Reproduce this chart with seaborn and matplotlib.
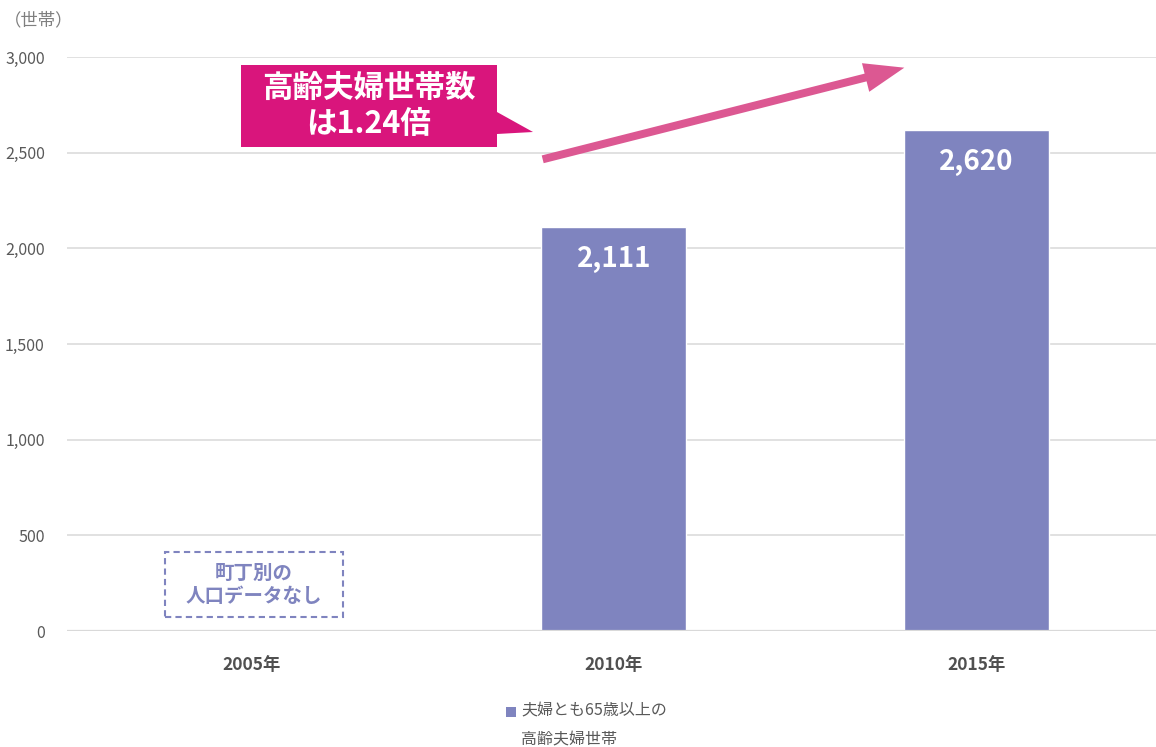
import numpy as np
import pandas as pd
import matplotlib.pyplot as plt
import matplotlib.patches as mpatches
import seaborn as sns

# DATA

years = ['2005年', '2010年', '2015年']
households = [np.nan, 2111, 2620]
y_ticks = [0, 500, 1000, 1500, 2000, 2500, 3000]
legend_label = ['夫婦とも65歳以上の', '高齢夫婦世帯']
callout_text = '高齢夫婦世帯数\nは1.24倍'
no_data_text = '町丁別の\n人口データなし'

bar_color = '#7f84bf'
callout_color = '#d9157c'
arrow_color = '#dc5892'
text_gray = '#595959'
grid_gray = '#d9d9d9'

sns.set_style('white')
plt.rcParams['font.family'] = ['Noto Sans CJK JP', 'DejaVu Sans']

W, H = 1156, 747
fig = plt.figure(figsize=(W / 100, H / 100), dpi=100)
ax = fig.add_axes([67 / W, 1 - 631 / H, (W - 67) / W, (631 - 57) / H])


def px(x, y):
    # figure pixels (from top-left) to figure fraction
    return (x / W, 1 - y / H)


df = pd.DataFrame({'year': years, 'households': households})

sns.barplot(
    data=df,
    x='year',
    y='households',
    color=bar_color,
    saturation=1,
    width=0.4,
    ax=ax,
    zorder=3
)

ax.set_xlim(-0.508, 2.495)
ax.set_ylim(0, 3000)
ax.set_yticks(y_ticks)
ax.set_yticklabels([f'{v:,}' for v in y_ticks], color=text_gray, fontsize=11.5)
ax.set_xticks(range(len(years)))
ax.set_xticklabels(years, color='#505050', fontsize=12.5, fontweight='bold')
ax.tick_params(axis='y', length=0, pad=16)
ax.tick_params(axis='x', length=0, pad=18)
ax.set_xlabel('')
ax.set_ylabel('')

ax.grid(axis='y', color=grid_gray, linewidth=1.1, zorder=0)
for s in ['top', 'right', 'left', 'bottom']:
    ax.spines[s].set_visible(False)
ax.axhline(0, color=grid_gray, linewidth=1.6, zorder=4)

# value labels inside bars
for i, v in enumerate(households):
    if np.isnan(v):
        continue
    ax.annotate(
        f'{int(v):,}',
        xy=(i, v),
        xytext=(0, -23),
        textcoords='offset points',
        ha='center',
        va='center',
        color='white',
        fontsize=20,
        fontweight='bold',
        zorder=5
    )

# unit label
fig.text(*px(4, 20), '（世帯）', color='#7f7f7f', fontsize=12.5, ha='left', va='center')

# callout box with pointer
callout = mpatches.Polygon(
    [px(241, 65), px(497, 65), px(497, 112), px(533, 132),
     px(497, 134), px(497, 147), px(241, 147)],
    closed=True,
    transform=fig.transFigure,
    facecolor=callout_color,
    edgecolor='none'
)
fig.add_artist(callout)
fig.text(*px(369, 106), callout_text, color='white', fontsize=22,
         fontweight='bold', ha='center', va='center', linespacing=1.15)

# trend arrow
arrow = mpatches.FancyArrowPatch(
    px(540, 160), px(907, 67),
    transform=fig.transFigure,
    arrowstyle='simple,head_length=1.15,head_width=0.85,tail_width=0.23',
    mutation_scale=25,
    color=arrow_color,
    linewidth=0
)
fig.add_artist(arrow)

# no data box for 2005
no_data = mpatches.Rectangle(
    px(165, 617),
    (343 - 165) / W,
    (617 - 552) / H,
    transform=fig.transFigure,
    facecolor='none',
    edgecolor=bar_color,
    linewidth=1.5,
    linestyle=(0, (3, 2))
)
fig.add_artist(no_data)
fig.text(*px(254, 585), no_data_text, color=bar_color, fontsize=14,
         fontweight='bold', ha='center', va='center', linespacing=1.3)

# legend
legend_square = mpatches.Rectangle(
    px(506, 717),
    10 / W,
    10 / H,
    transform=fig.transFigure,
    facecolor=bar_color,
    edgecolor='none'
)
fig.add_artist(legend_square)
fig.text(*px(521, 711), legend_label[0], color=text_gray, fontsize=11.5,
         ha='left', va='center')
fig.text(*px(521, 740), legend_label[1], color=text_gray, fontsize=11.5,
         ha='left', va='center')

plt.savefig('out.png', dpi=100)
